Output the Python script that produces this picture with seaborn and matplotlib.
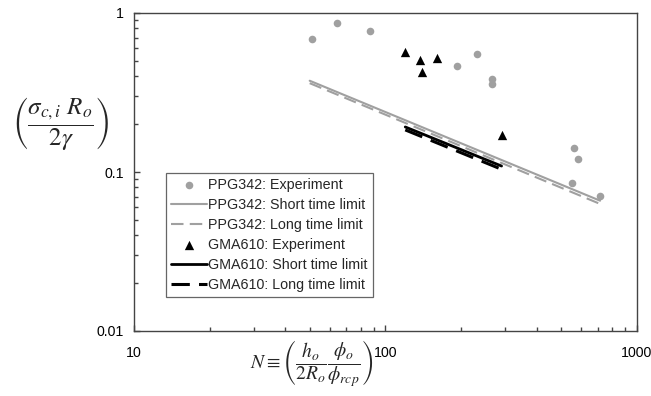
import matplotlib
matplotlib.use("Agg")
import matplotlib.pyplot as plt
import seaborn as sns
from matplotlib.ticker import LogLocator, NullFormatter, FixedFormatter, FixedLocator

# ---- data ----
ppg_exp_N = [51, 64, 87, 192, 231, 266, 266, 562, 583, 552, 715]
ppg_exp_y = [0.683, 0.861, 0.77, 0.466, 0.55, 0.385, 0.356, 0.1416, 0.121, 0.0857, 0.0706]
ppg_short_N = [50, 715]
ppg_short_y = [0.375, 0.066]
ppg_long_N = [50, 715]
ppg_long_y = [0.362, 0.063]
gma_exp_N = [120, 137, 140, 161, 290]
gma_exp_y = [0.566, 0.504, 0.424, 0.524, 0.171]
gma_short_N = [120, 290]
gma_short_y = [0.192, 0.109]
gma_long_N = [120, 290]
gma_long_y = [0.184, 0.104]

x_ticks = [10, 100, 1000]
x_tick_labels = ["10", "100", "1000"]
y_ticks = [0.01, 0.1, 1]
y_tick_labels = ["0.01", "0.1", "1"]

sns.set_theme(style="ticks")
plt.rcParams['font.family'] = ['Liberation Sans', 'DejaVu Sans']
plt.rcParams['mathtext.fontset'] = 'stix'

gray = "#a0a0a0"
fig = plt.figure(figsize=(6.51, 3.96), dpi=100)
ax = fig.add_axes([134/651, 1-331/396, (636.7-134)/651, (331-13)/396])

ax.set_xscale("log")
ax.set_yscale("log")

sns.scatterplot(x=ppg_exp_N, y=ppg_exp_y, ax=ax, color=gray, marker="o", s=30,
                edgecolor=gray, linewidth=0, label="PPG342: Experiment", zorder=3)
sns.lineplot(x=ppg_short_N, y=ppg_short_y, ax=ax, color=gray, lw=1.5,
             label="PPG342: Short time limit")
sns.lineplot(x=ppg_long_N, y=ppg_long_y, ax=ax, color=gray, lw=1.5,
             label="PPG342: Long time limit", linestyle=(0, (6, 3)))
sns.scatterplot(x=gma_exp_N, y=gma_exp_y, ax=ax, color="black", marker="^", s=45,
                edgecolor="black", linewidth=0, label="GMA610: Experiment", zorder=3)
sns.lineplot(x=gma_short_N, y=gma_short_y, ax=ax, color="black", lw=2.0,
             label="GMA610: Short time limit")
sns.lineplot(x=gma_long_N, y=gma_long_y, ax=ax, color="black", lw=2.2,
             label="GMA610: Long time limit", linestyle=(0, (6, 3)))

ax.set_xlim(10, 1000)
ax.set_ylim(0.01, 1)
ax.xaxis.set_major_locator(FixedLocator(x_ticks))
ax.xaxis.set_major_formatter(FixedFormatter(x_tick_labels))
ax.yaxis.set_major_locator(FixedLocator(y_ticks))
ax.yaxis.set_major_formatter(FixedFormatter(y_tick_labels))
minor_subs = [2, 3, 4, 5, 6, 7, 8, 9]
ax.xaxis.set_minor_locator(FixedLocator([d * s for d in (10, 100) for s in minor_subs]))
ax.yaxis.set_minor_locator(FixedLocator([d * s for d in (0.01, 0.1) for s in minor_subs]))
ax.xaxis.set_minor_formatter(NullFormatter())
ax.yaxis.set_minor_formatter(NullFormatter())

spine_c = "#444444"
for sp in ax.spines.values():
    sp.set_visible(True)
    sp.set_color(spine_c)
    sp.set_linewidth(1.0)
ax.tick_params(which="both", direction="in", color=spine_c, width=1.0,
               top=False, right=False, bottom=True, left=True)
ax.tick_params(which="major", length=4.5)
ax.tick_params(which="minor", length=3)
ax.tick_params(axis="x", which="major", pad=11, labelsize=10.2, labelcolor="black")
ax.tick_params(axis="y", which="major", pad=7, labelsize=10.2, labelcolor="black")

leg = ax.legend(loc="lower left", bbox_to_anchor=(0.064, 0.107), fontsize=10.3,
                frameon=True, fancybox=False, edgecolor="#666666", framealpha=1,
                handlelength=2.5, handletextpad=0.1, labelspacing=0.42,
                borderpad=0.35, borderaxespad=0)
leg.get_frame().set_linewidth(0.9)

fig.text(60/651, 1-124/396,
         r"$\left(\dfrac{\sigma_{c,i}\ R_o}{2\gamma}\right)$",
         ha="center", va="center", fontsize=18)
fig.text(312/651, 1-364/396,
         r"$N \equiv \left(\dfrac{h_o}{2R_o}\dfrac{\phi_o}{\phi_{rcp}}\right)$",
         ha="center", va="center", fontsize=14)

fig.savefig("out.png", dpi=100)
